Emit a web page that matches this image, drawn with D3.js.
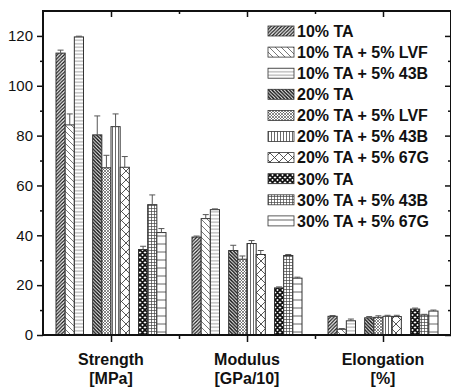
<!DOCTYPE html>
<html>
<head>
<meta charset="utf-8">
<script src="https://cdn.jsdelivr.net/npm/d3@7"></script>
<style>
  body { margin: 0; background: #fff; }
  svg { display: block; font-family: 'Liberation Sans', Arial, sans-serif; }
</style>
</head>
<body>
<div id="chart"></div>
<script>
// series, in legend order
const series = [
  '10% TA', '10% TA + 5% LVF', '10% TA + 5% 43B',
  '20% TA', '20% TA + 5% LVF', '20% TA + 5% 43B', '20% TA + 5% 67G',
  '30% TA', '30% TA + 5% 43B', '30% TA + 5% 67G',
]
// slot of each series inside a group (12 slots, 2 left empty as gaps)
const slots = [0, 1, 2, 4, 5, 6, 7, 9, 10, 11]

const categories = ['Strength', 'Modulus', 'Elongation']
const units = ['[MPa]', '[GPa/10]', '[%]']

const strength = [113.1, 84.3, 119.6, 80.3, 67.1, 83.6, 67.3, 34.3, 52.3, 41.1]
const strengthErr = [1.2, 4.4, 0.3, 7.6, 5.0, 5.1, 4.3, 1.3, 3.9, 1.6]
const modulus = [39.3, 46.7, 50.3, 33.9, 30.4, 36.7, 32.3, 18.9, 31.9, 22.8]
const modulusErr = [0.4, 1.6, 0.3, 2.1, 1.3, 1.2, 1.6, 0.4, 0.4, 0.4]
const elongation = [7.5, 2.3, 5.7, 6.9, 7.1, 7.5, 7.4, 10.4, 8.0, 9.6]
const elongationErr = [0.3, 0.3, 0.7, 0.5, 0.6, 0.4, 0.5, 0.4, 0.3, 0.4]

const yTicks = [0, 20, 40, 60, 80, 100, 120]
const yMinorTicks = [10, 30, 50, 70, 90, 110]

const values = [strength, modulus, elongation]
const errors = [strengthErr, modulusErr, elongationErr]

const width = 451
const height = 388
const plotLeft = 43
const plotRight = 451
const plotTop = 11
const plotBottom = 335

const svg = d3
  .select('#chart')
  .append('svg')
  .attr('width', width)
  .attr('height', height)

// hatch patterns, one per series
const defs = svg.append('defs')

function fwd(s) {
  return `M0,${s} L${s},0 M${-s / 2},${s / 2} L${s / 2},${-s / 2} M${s / 2},${s * 1.5} L${s * 1.5},${s / 2}`
}
function back(s) {
  return `M0,0 L${s},${s} M${-s / 2},${s / 2} L${s / 2},${s * 1.5} M${s / 2},${-s / 2} L${s * 1.5},${s / 2}`
}
function horiz(s) {
  return `M0,${s / 2} H${s}`
}
function vert(s) {
  return `M${s / 2},0 V${s}`
}

const patterns = [
  { s: 3.5, d: fwd, sw: 1.3, c: '#1a1a1a' },
  { s: 6, d: back, sw: 0.8, c: '#555' },
  { s: 3.5, d: horiz, sw: 0.8, c: '#888' },
  { s: 3.5, d: back, sw: 1.4, c: '#111' },
  { s: 3, d: (s) => fwd(s) + back(s), sw: 0.7, c: '#555' },
  { s: 3, d: vert, sw: 0.8, c: '#444' },
  { s: 9, d: (s) => fwd(s) + back(s), sw: 0.9, c: '#444' },
  { s: 5, d: (s) => fwd(s) + back(s), sw: 1.8, c: '#111' },
  { s: 3, d: (s) => horiz(s) + vert(s), sw: 0.7, c: '#444' },
  { s: 8, d: horiz, sw: 0.9, c: '#555' },
]

patterns.forEach((p, i) => {
  const pat = defs
    .append('pattern')
    .attr('id', 'p' + i)
    .attr('patternUnits', 'userSpaceOnUse')
    .attr('width', p.s)
    .attr('height', p.s)
  pat.append('rect').attr('width', p.s).attr('height', p.s).attr('fill', '#fff')
  pat
    .append('path')
    .attr('d', p.d(p.s))
    .attr('stroke', p.c)
    .attr('stroke-width', p.sw)
    .attr('fill', 'none')
})

// scales
const x = d3.scaleLinear().domain([0.5, 3.5]).range([plotLeft, plotRight])
const slot = d3.scaleBand().domain(d3.range(12)).range([-55, 55])
const y = d3.scaleLinear().domain([0, 130]).range([plotBottom, plotTop])

// bars
const rows = []
categories.forEach((c, ci) => {
  series.forEach((s, si) => {
    rows.push({ cat: ci + 1, si, v: values[ci][si], e: errors[ci][si] })
  })
})

const bars = svg.append('g')
bars
  .selectAll('rect')
  .data(rows)
  .enter()
  .append('rect')
  .attr('x', (d) => x(d.cat) + slot(slots[d.si]))
  .attr('y', (d) => y(d.v))
  .attr('width', slot.bandwidth())
  .attr('height', (d) => y(0) - y(d.v))
  .attr('fill', (d) => `url(#p${d.si})`)
  .attr('stroke', '#333')
  .attr('stroke-width', 1)

// error bars, upper half only
const errs = svg.append('g').attr('stroke', '#555').attr('stroke-width', 1)
rows.forEach((d) => {
  const cx = x(d.cat) + slot(slots[d.si]) + slot.bandwidth() / 2
  errs.append('line')
    .attr('x1', cx).attr('x2', cx)
    .attr('y1', y(d.v)).attr('y2', y(d.v + d.e))
  errs.append('line')
    .attr('x1', cx - 3).attr('x2', cx + 3)
    .attr('y1', y(d.v + d.e)).attr('y2', y(d.v + d.e))
})

// axes
const axisStyle = (g) => {
  g.selectAll('.domain').remove()
  g.selectAll('line').attr('stroke', '#111').attr('stroke-width', 1.5)
}

svg.append('g')
  .attr('transform', `translate(${plotLeft},0)`)
  .call(d3.axisLeft(y).tickValues(yTicks).tickSize(6).tickPadding(4))
  .call(axisStyle)
  .selectAll('text')
  .style('font-size', '15px')
  .style('font-family', "'Liberation Sans', Arial, sans-serif")
  .attr('fill', '#111')

svg.append('g')
  .attr('transform', `translate(${plotLeft},0)`)
  .call(d3.axisLeft(y).tickValues(yMinorTicks).tickSize(3).tickFormat(''))
  .call(axisStyle)

svg.append('g')
  .attr('transform', `translate(${plotRight},0)`)
  .call(d3.axisRight(y).tickValues(yTicks).tickSize(-6).tickFormat(''))
  .call(axisStyle)

svg.append('g')
  .attr('transform', `translate(${plotRight},0)`)
  .call(d3.axisRight(y).tickValues(yMinorTicks).tickSize(-3).tickFormat(''))
  .call(axisStyle)

svg.append('g')
  .attr('transform', `translate(0,${plotBottom})`)
  .call(d3.axisBottom(x).tickValues([1, 2, 3]).tickSize(7).tickFormat(''))
  .call(axisStyle)

svg.append('g')
  .attr('transform', `translate(0,${plotBottom})`)
  .call(d3.axisBottom(x).tickValues([1.5, 2.5]).tickSize(4).tickFormat(''))
  .call(axisStyle)

svg.append('g')
  .attr('transform', `translate(0,${plotTop})`)
  .call(d3.axisTop(x).tickValues([1, 2, 3]).tickSize(-6).tickFormat(''))
  .call(axisStyle)

svg.append('g')
  .attr('transform', `translate(0,${plotTop})`)
  .call(d3.axisTop(x).tickValues([1.5, 2.5]).tickSize(-3).tickFormat(''))
  .call(axisStyle)

// frame
svg.append('rect')
  .attr('x', plotLeft)
  .attr('y', plotTop)
  .attr('width', plotRight - plotLeft)
  .attr('height', plotBottom - plotTop)
  .attr('fill', 'none')
  .attr('stroke', '#111')
  .attr('stroke-width', 2)

// category labels
const catLabels = svg.append('g')
  .attr('text-anchor', 'middle')
  .style('font-size', '16px')
  .style('font-weight', 'bold')
  .attr('fill', '#111')
categories.forEach((c, i) => {
  catLabels.append('text').attr('x', x(i + 1)).attr('y', 365).text(c)
  catLabels.append('text').attr('x', x(i + 1)).attr('y', 384).text(units[i])
})

// legend
const legend = svg.append('g')
series.forEach((s, i) => {
  const cy = 31 + i * 21.1
  legend.append('rect')
    .attr('x', 268)
    .attr('y', cy - 5)
    .attr('width', 26)
    .attr('height', 10)
    .attr('fill', `url(#p${i})`)
    .attr('stroke', '#333')
    .attr('stroke-width', 0.8)
  legend.append('text')
    .attr('x', 297)
    .attr('y', cy + 5.8)
    .style('font-size', '16px')
    .style('font-weight', 'bold')
    .attr('fill', '#111')
    .text(s)
})
</script>
</body>
</html>
